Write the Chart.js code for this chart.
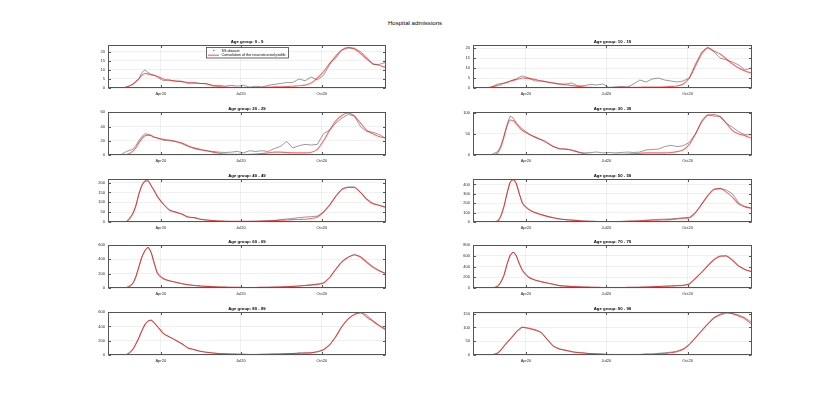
<!DOCTYPE html>
<html>
<head>
<meta charset="utf-8">
<script src="https://cdn.jsdelivr.net/npm/chart.js@4"></script>
<style>
  body { margin: 0; background: #fff; }
  #wrap { position: relative; width: 830px; height: 396px; overflow: hidden; }
  #title { position: absolute; left: 0; width: 830px; top: 19px; text-align: center;
           font: 6.1px "Liberation Sans", Arial, sans-serif; color: #000; }
  .cell { position: absolute; }
</style>
</head>
<body>
<div id="wrap">
  <div id="title">Hospital admissions</div>
</div>
<script>
// days since 1 Feb 2020: weekly, with half-week points around the first wave
const days = [0, 7, 14, 21, 28, 31.5, 35, 38.5, 42, 45.5, 49, 52.5, 56, 63, 70, 77, 84, 91, 98, 105, 112, 119, 126, 133, 140, 147, 154,
  161, 168, 175, 182, 189, 196, 203, 210, 217, 224, 231, 238, 245, 252, 259, 266, 273, 280, 287, 294, 301, 308, 315];
const xTickDays = [60, 151, 243];
const xTickLabels = ["Apr20", "Jul20", "Oct20"];

const ageGroups = ["0 - 9", "10 - 19", "20 - 29", "30 - 39", "40 - 49", "50 - 59", "60 - 69", "70 - 79", "80 - 89", "90 - 99"];

// SS dataset (black) and convolution of the reconstructed profile (red)
const ss0_9 = [0, 0, 0, 0.5, 2, 3.5, 5, 8.5, 10, 8.5, 7.5, 7, 6, 4, 4.5, 3.5, 3.8, 2.5, 3, 2.5, 2.5, 1, 1.5, 1, 1.5, 1, 1.5, 0.5, 1, 0.5, 1.5, 2, 2.5, 3, 3, 5, 4, 6, 4.5, 7, 13, 18, 21, 22, 22, 20, 17, 13, 13, 14];
const conv0_9 = [0, 0, 0, 0.5, 2, 3.5, 5, 7, 8, 7.8, 7.3, 7, 6.5, 5, 4.3, 4, 3.5, 3, 2.7, 2.5, 2.2, 1.5, 0.8, 0.5, 0.4, 0.3, 0.3, 0.3, 0.3, 0.4, 0.5, 0.6, 0.7, 0.8, 1, 1.2, 1.6, 2.7, 5.5, 9, 13.6, 17, 21, 22.4, 21.5, 19, 16, 13.5, 12.5, 11.5];

const ss10_19 = [0, 0, 0, 0.5, 2, 2.2, 2.5, 3, 3.5, 4, 4.5, 5.5, 6, 5, 3.5, 3.5, 3, 2.5, 2, 2, 2.5, 1, 1.2, 1.8, 1.5, 2, 0.3, 0.5, 0.8, 0.5, 2, 4, 3, 4.5, 5, 4, 3.5, 3, 3.5, 5, 12, 18, 20.5, 18, 15, 14, 13, 11.5, 9, 10];
const conv10_19 = [0, 0, 0, 0.5, 1.3, 1.8, 2.3, 2.8, 3.3, 3.8, 4.2, 4.6, 5, 4.8, 4.3, 3.6, 3, 2.5, 2, 1.6, 1.2, 0.8, 0.5, 0.3, 0.2, 0.2, 0.2, 0.3, 0.3, 0.3, 0.4, 0.4, 0.5, 0.5, 0.5, 0.6, 0.8, 1, 2, 5, 11, 17, 20, 18.5, 17, 14.5, 12, 10, 8.5, 7.5];

const ss20_29 = [0, 0, 0, 5, 8, 13, 20, 26, 30, 29, 28, 25, 24, 21, 20, 19, 16, 12, 9, 7, 6, 5, 4, 3.5, 4, 5, 3, 6, 5, 6, 5, 9, 12, 19, 10, 13, 15, 14, 15, 30, 35, 45, 52, 57, 55, 40, 33, 32, 29, 24];
const conv20_29 = [0, 0, 0, 0.5, 5, 10, 17, 23, 27, 28, 27, 25, 24, 22, 21, 19, 17, 13, 10, 8, 6, 4, 2.5, 1.5, 1, 1, 0.8, 1, 1.5, 2, 3, 4, 4, 3.5, 3, 3, 3, 4, 8, 20, 35, 48, 56, 59, 55, 45, 35, 30, 26, 24];

const ss30_39 = [0, 0, 0, 1, 8, 22, 45, 72, 92, 88, 77, 68, 62, 50, 42, 36, 28, 20, 15, 14, 11, 7, 5, 6, 7, 5, 6, 5, 6, 7, 6, 7, 12, 13, 14, 20, 23, 20, 22, 30, 50, 78, 95, 92, 92, 75, 66, 55, 48, 48];
const conv30_39 = [0, 0, 0, 0, 5, 18, 42, 68, 83, 82, 74, 65, 58, 50, 43, 37, 30, 20, 15, 14, 12, 7, 3, 1.5, 1, 1, 1, 1.5, 1.5, 2, 3, 4, 5, 5, 5, 5, 6, 8, 12, 25, 50, 80, 95, 96, 90, 75, 58, 50, 46, 40];

const ss40_49 = [0, 0, 0, 2, 40, 80, 140, 187, 210, 212, 183, 158, 130, 90, 60, 50, 40, 25, 22, 14, 10, 7, 5, 4, 3, 3, 3, 3, 4, 5, 6, 7, 12, 15, 18, 22, 25, 27, 30, 50, 88, 132, 168, 178, 178, 150, 117, 95, 85, 76];
const conv40_49 = [0, 0, 0, 2, 40, 80, 140, 185, 205, 208, 185, 160, 130, 90, 60, 50, 40, 25, 22, 14, 10, 7, 5, 4, 3, 3, 3, 3, 4, 5, 6, 7, 9, 10, 12, 13, 14, 18, 25, 50, 85, 130, 165, 175, 175, 150, 115, 92, 85, 75];

const ss50_59 = [0, 0, 0, 0, 10, 62, 165, 305, 425, 455, 410, 300, 200, 135, 100, 80, 60, 45, 32, 25, 20, 15, 10, 8, 6, 5, 5, 5, 6, 8, 10, 12, 20, 25, 28, 30, 32, 38, 45, 50, 100, 190, 282, 348, 358, 340, 300, 200, 165, 150];
const conv50_59 = [0, 0, 0, 0, 10, 60, 160, 300, 420, 450, 410, 300, 200, 135, 100, 80, 60, 45, 32, 25, 20, 15, 10, 8, 6, 5, 5, 5, 6, 8, 10, 12, 15, 18, 20, 22, 25, 32, 40, 44, 99, 190, 282, 348, 355, 318, 263, 190, 161, 146];

const ss60_69 = [0, 0, 0, 5, 60, 150, 292, 435, 525, 570, 495, 345, 210, 130, 100, 80, 60, 45, 35, 28, 22, 18, 14, 12, 10, 9, 8, 8, 8, 9, 10, 12, 15, 18, 22, 28, 35, 45, 55, 70, 145, 260, 365, 430, 470, 440, 370, 300, 245, 205];
const conv60_69 = [0, 0, 0, 5, 60, 150, 290, 430, 520, 565, 500, 350, 210, 130, 100, 80, 60, 45, 35, 28, 22, 18, 14, 12, 10, 9, 8, 8, 8, 9, 10, 12, 15, 18, 22, 28, 35, 40, 50, 70, 150, 265, 367, 428, 460, 428, 358, 288, 242, 205];

const ss70_79 = [0, 0, 0, 0, 30, 112, 235, 445, 605, 670, 600, 450, 325, 200, 150, 119, 94, 69, 44, 35, 28, 22, 18, 15, 12, 10, 10, 10, 10, 11, 12, 15, 18, 22, 28, 33, 38, 45, 52, 75, 175, 285, 410, 525, 590, 600, 520, 410, 345, 306];
const conv70_79 = [0, 0, 0, 0, 30, 110, 231, 440, 600, 665, 600, 450, 325, 200, 150, 119, 94, 69, 44, 35, 28, 22, 18, 15, 12, 10, 10, 10, 10, 11, 12, 15, 18, 22, 28, 33, 38, 42, 48, 75, 181, 294, 419, 531, 594, 594, 512, 406, 344, 306];

const ss80_89 = [0, 0, 0, 5, 75, 150, 239, 342, 428, 478, 492, 452, 403, 300, 253, 206, 159, 98, 75, 52, 38, 28, 20, 16, 13, 11, 9, 8, 8, 9, 11, 13, 15, 18, 22, 30, 30, 32, 45, 75, 140, 255, 400, 506, 570, 600, 560, 480, 420, 370];
const conv80_89 = [0, 0, 0, 5, 75, 150, 239, 340, 426, 475, 487, 450, 403, 300, 253, 206, 159, 98, 75, 52, 38, 28, 20, 16, 13, 11, 9, 8, 8, 9, 11, 13, 15, 18, 20, 23, 26, 30, 45, 75, 145, 262, 403, 506, 567, 590, 534, 473, 412, 356];

const ss90_99 = [0, 0, 0, 0.5, 7, 18, 32, 45, 57, 70, 84, 95, 102, 96, 90, 82, 57, 32, 22, 17, 12, 9, 7, 5, 4, 3, 2, 2, 2, 2, 2, 2, 3, 3, 6, 8, 10, 14, 22, 38, 63, 88, 113, 135, 145, 152, 150, 145, 135, 120];
const conv90_99 = [0, 0, 0, 0.5, 7, 18, 32, 45, 57, 70, 84, 93, 100, 98, 92, 82, 57, 32, 22, 17, 12, 9, 7, 5, 4, 3, 2, 2, 2, 2, 2, 2, 3, 3, 4, 5, 8, 12, 20, 38, 63, 88, 113, 135, 148, 155, 150, 141, 131, 113];

const yTicks0_9 = [0, 5, 10, 15, 20];
const yTicks10_19 = [0, 5, 10, 15, 20];
const yTicks20_29 = [0, 20, 40, 60];
const yTicks30_39 = [0, 50, 100];
const yTicks40_49 = [0, 50, 100, 150, 200];
const yTicks50_59 = [0, 100, 200, 300, 400];
const yTicks60_69 = [0, 200, 400, 600];
const yTicks70_79 = [0, 200, 400, 600, 800];
const yTicks80_89 = [0, 200, 400, 600];
const yTicks90_99 = [0, 50, 100, 150];

const yMax = [23.7, 21.5, 60.5, 102, 218, 458, 600, 800, 603, 156];

const ssSeries = [ss0_9, ss10_19, ss20_29, ss30_39, ss40_49, ss50_59, ss60_69, ss70_79, ss80_89, ss90_99];
const convSeries = [conv0_9, conv10_19, conv20_29, conv30_39, conv40_49, conv50_59, conv60_69, conv70_79, conv80_89, conv90_99];
const yTickSets = [yTicks0_9, yTicks10_19, yTicks20_29, yTicks30_39, yTicks40_49, yTicks50_59, yTicks60_69, yTicks70_79, yTicks80_89, yTicks90_99];

const legendLabels = ["SS dataset", "Convolution of the reconstructed profile"];

// layout of the 5x2 grid (plot boxes)
const colLeft = [108, 473];
const colWidth = [278, 279];
const rowTop = [45, 112, 179, 245, 312];
const plotH = 43;
const axisW = 28, axisH = 12, padTop = 12, padRight = 4;

Chart.defaults.font.family = '"Liberation Sans", Arial, sans-serif';
Chart.defaults.color = "#262626";

const boxPlugin = {
  id: "box",
  afterDraw(chart, args, opts) {
    const { ctx, chartArea: a, scales } = chart;
    const L = a.left + 0.5, T = a.top + 0.5, R = a.right - 0.5, B = a.bottom - 0.5;
    ctx.save();
    ctx.strokeStyle = "#555";
    ctx.lineWidth = 1;
    ctx.strokeRect(L, T, R - L, B - T);
    // inward tick marks on all four sides
    ctx.beginPath();
    xTickDays.forEach((d) => {
      const px = Math.round(scales.x.getPixelForValue(d)) + 0.5;
      ctx.moveTo(px, B); ctx.lineTo(px, B - 2.5);
      ctx.moveTo(px, T); ctx.lineTo(px, T + 2.5);
    });
    opts.yTicks.forEach((v) => {
      const py = Math.round(scales.y.getPixelForValue(v)) + 0.5;
      ctx.moveTo(L, py); ctx.lineTo(L + 2.5, py);
      ctx.moveTo(R, py); ctx.lineTo(R - 2.5, py);
    });
    ctx.stroke();

    ctx.fillStyle = "#000";
    ctx.font = 'bold 4.3px "Liberation Sans", Arial, sans-serif';
    ctx.textAlign = "center";
    ctx.textBaseline = "alphabetic";
    ctx.fillText(opts.title, (a.left + a.right) / 2, a.top - 2);

    if (opts.legend) {
      const bx = a.left + 98.5, by = a.top + 2.5, bw = 82, bh = 10.5;
      ctx.fillStyle = "#fff";
      ctx.fillRect(bx, by, bw, bh);
      ctx.strokeStyle = "#444";
      ctx.lineWidth = 0.8;
      ctx.strokeRect(bx, by, bw, bh);
      ctx.font = '3.7px "Liberation Sans", Arial, sans-serif';
      ctx.textAlign = "left";
      ctx.textBaseline = "middle";
      // SS dataset entry
      ctx.fillStyle = "#333";
      ctx.fillRect(bx + 6.8, by + 2.6, 1, 1);
      ctx.fillStyle = "#000";
      ctx.fillText(legendLabels[0], bx + 15, by + 3.2);
      // convolution entry
      ctx.strokeStyle = "rgba(255,0,0,0.7)";
      ctx.lineWidth = 1;
      ctx.beginPath();
      ctx.moveTo(bx + 1.5, by + 7.7); ctx.lineTo(bx + 12.5, by + 7.7);
      ctx.stroke();
      ctx.fillText(legendLabels[1], bx + 15, by + 7.8);
    }
    ctx.restore();
  },
};

function toPoints(values) {
  return days.map((d, k) => ({ x: d, y: values[k] }));
}

const wrap = document.getElementById("wrap");

ageGroups.forEach((group, i) => {
  const col = i % 2;
  const row = Math.floor(i / 2);
  const w = colWidth[col] + axisW + padRight;
  const h = padTop + plotH + axisH;

  const cell = document.createElement("div");
  cell.className = "cell";
  cell.style.left = colLeft[col] - axisW + "px";
  cell.style.top = rowTop[row] - padTop + "px";
  cell.style.width = w + "px";
  cell.style.height = h + "px";
  const canvas = document.createElement("canvas");
  canvas.width = w;
  canvas.height = h;
  cell.appendChild(canvas);
  wrap.appendChild(cell);

  const yTicks = yTickSets[i];

  new Chart(canvas, {
    type: "line",
    data: {
      datasets: [
        {
          label: legendLabels[1],
          data: toPoints(convSeries[i]),
          borderColor: "rgba(255,0,0,0.6)",
          borderWidth: 1.1,
          pointRadius: 0,
          cubicInterpolationMode: "monotone",
          order: 0,
        },
        {
          label: legendLabels[0],
          data: toPoints(ssSeries[i]),
          borderColor: "rgba(30,30,30,0.75)",
          borderWidth: 0.6,
          pointRadius: 0,
          tension: 0,
          order: 1,
        },
      ],
    },
    options: {
      responsive: false,
      animation: false,
      devicePixelRatio: 1,
      layout: { padding: { top: padTop, right: padRight, left: 0, bottom: 0 } },
      plugins: {
        legend: { display: false },
        tooltip: { enabled: false },
        box: { title: "Age group: " + group, legend: i === 0, yTicks: yTicks },
      },
      scales: {
        x: {
          type: "linear",
          min: 0,
          max: 316,
          afterBuildTicks: (scale) => {
            scale.ticks = xTickDays.map((d) => ({ value: d }));
          },
          afterFit: (scale) => { scale.height = axisH; },
          ticks: {
            callback: (v) => xTickLabels[xTickDays.indexOf(v)],
            font: { size: 4 },
            padding: 3,
            maxRotation: 0,
            autoSkip: false,
          },
          grid: { color: "rgba(0,0,0,0.1)", lineWidth: 0.6, drawTicks: false },
          border: { display: false },
        },
        y: {
          min: 0,
          max: yMax[i],
          afterBuildTicks: (scale) => {
            scale.ticks = yTicks.map((v) => ({ value: v }));
          },
          afterFit: (scale) => { scale.width = axisW; },
          ticks: { font: { size: 4 }, padding: 3 },
          grid: { color: "rgba(0,0,0,0.1)", lineWidth: 0.6, drawTicks: false },
          border: { display: false },
        },
      },
    },
    plugins: [boxPlugin],
  });
});
</script>
</body>
</html>
